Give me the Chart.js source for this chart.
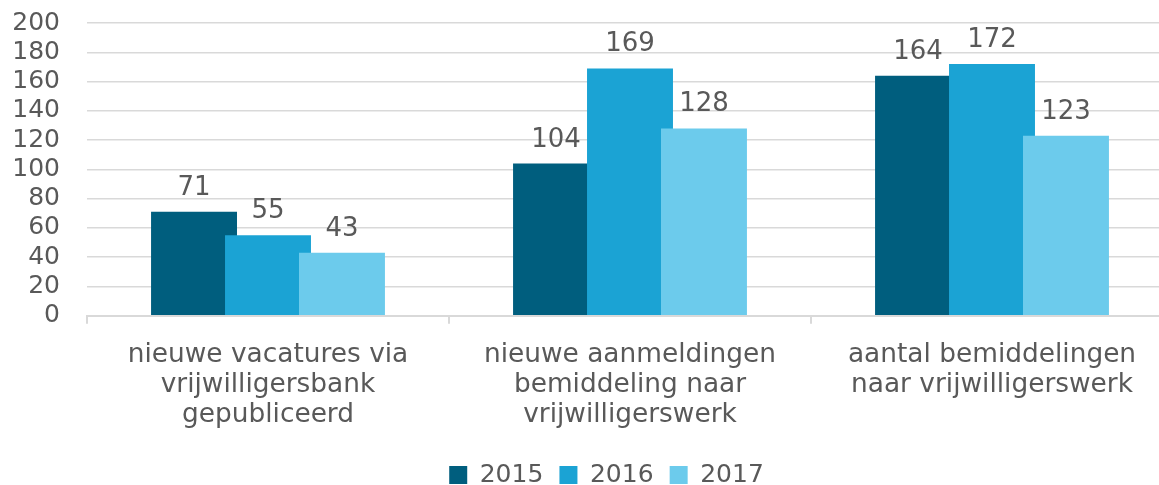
<!DOCTYPE html>
<html>
<head>
<meta charset="utf-8">
<script src="https://cdn.jsdelivr.net/npm/chart.js@4"></script>
<style>
  html, body { margin: 0; padding: 0; background: #fff; overflow: hidden; }
  #wrap { width: 1159px; height: 485px; overflow: hidden; }
  #chart { display: block; margin-top: -19px; }
</style>
</head>
<body>
<div id="wrap"><canvas id="chart" width="1207" height="504"></canvas></div>
<script>
// categories + series
const categories = [
    ['nieuwe vacatures via', 'vrijwilligersbank', 'gepubliceerd'],
    ['nieuwe aanmeldingen', 'bemiddeling naar', 'vrijwilligerswerk'],
    ['aantal bemiddelingen', 'naar vrijwilligerswerk']
];
const years = ['2015', '2016', '2017'];
const v2015 = [71, 104, 164];
const v2016 = [55, 169, 172];
const v2017 = [43, 128, 123];
const colors = ['#005e7e', '#1ba3d4', '#6ccbec'];

const txt = '#595959';
const font = { family: 'DejaVu Sans', size: 25 };

// excel style: later series sit on top of the earlier ones where they overlap
const zfix = {
    id: 'zfix',
    beforeDatasetsDraw(chart) {
        chart.getSortedVisibleDatasetMetas().forEach(m => m.controller.draw());
        return false;
    }
};

// legend sits a bit right of the canvas centre in the original
const legendNudge = {
    id: 'legendNudge',
    afterLayout(chart) {
        chart.legend.left += 14;
        chart.legend.right += 14;
    }
};

// value above each bar (afterDraw, since datasets draw hook is cancelled above)
const barLabels = {
    id: 'barLabels',
    afterDraw(chart) {
        const ctx = chart.ctx;
        ctx.save();
        ctx.font = `26px ${font.family}`;
        ctx.fillStyle = txt;
        ctx.textAlign = 'center';
        ctx.textBaseline = 'alphabetic';
        chart.data.datasets.forEach((ds, i) => {
            chart.getDatasetMeta(i).data.forEach((bar, j) => {
                ctx.fillText(ds.data[j], bar.x, bar.y - 17);
            });
        });
        ctx.restore();
    }
};

new Chart(document.getElementById('chart'), {
    type: 'bar',
    data: {
        labels: categories,
        datasets: [v2015, v2016, v2017].map((d, i) => ({
            label: years[i],
            data: d,
            backgroundColor: colors[i],
            borderWidth: 0,
            categoryPercentage: 0.613,
            barPercentage: 1.162
        }))
    },
    options: {
        responsive: false,
        animation: false,
        layout: { padding: { left: 12, right: 34, top: 0, bottom: -12.6 } },
        plugins: {
            legend: {
                position: 'bottom',
                labels: {
                    color: txt,
                    font,
                    boxWidth: 18,
                    boxHeight: 18,
                    padding: 16.1
                }
            },
            tooltip: { enabled: false }
        },
        scales: {
            x: {
                grid: {
                    offset: true,
                    drawOnChartArea: false,
                    tickLength: 8,
                    color: '#d9d9d9',
                    lineWidth: 2
                },
                border: { color: '#d9d9d9', width: 2 },
                ticks: { color: txt, font: { ...font, size: 26.4, lineHeight: 1.12 }, padding: 17, maxRotation: 0, autoSkip: false }
            },
            y: {
                min: 0,
                max: 200,
                afterFit: s => { s.width = 75; },
                grid: { color: '#d9d9d9', lineWidth: 1.5, drawTicks: false },
                border: { display: false },
                ticks: { stepSize: 20, color: txt, font, padding: 27, autoSkip: false }
            }
        }
    },
    plugins: [zfix, legendNudge, barLabels]
});
</script>
</body>
</html>
